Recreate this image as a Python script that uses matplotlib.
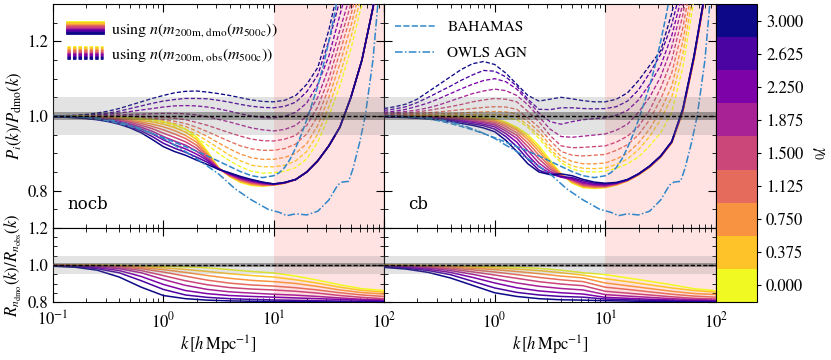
import numpy as np
import matplotlib
matplotlib.use("Agg")
import matplotlib.pyplot as plt
from matplotlib.legend_handler import HandlerBase
from matplotlib.lines import Line2D
from matplotlib.colors import ListedColormap, BoundaryNorm
from matplotlib.cm import ScalarMappable
import matplotlib.ticker as mticker

# ---------------- data ----------------
GAMMA = [0.0, 0.375, 0.75, 1.125, 1.5, 1.875, 2.25, 2.625, 3.0]
# log10 k sampling of the top panels
LOGK_TOP = [-1.0, -0.9, -0.8, -0.7, -0.6, -0.5, -0.4, -0.3, -0.2, -0.1, 0.0, 0.1, 0.2, 0.3, 0.4, 0.5,
            0.6, 0.7, 0.8, 0.9, 1.0, 1.1, 1.2, 1.3, 1.4, 1.5, 1.6, 1.7, 1.8, 1.9, 2.0]
# log10 k sampling of the bottom panels
LOGK_BOT = [-1.0, -0.8, -0.6, -0.4, -0.2, 0.0, 0.2, 0.4, 0.6, 0.8, 1.0, 1.2, 1.4, 1.6, 1.8, 2.0]

# top-left (nocb), solid: using n(m200m,dmo)
NOCB_DMO = [
    [1.0, 1.0, 1.0, 0.999, 0.999, 0.998, 0.997, 0.995, 0.993, 0.990, 0.985, 0.977, 0.965, 0.944, 0.905, 0.862, 0.838, 0.822, 0.814, 0.812, 0.815,
     0.820, 0.830, 0.850, 0.880, 0.920, 0.970, 1.050, 1.150, 1.290, 1.450],
    [1.0, 1.0, 0.999, 0.999, 0.998, 0.997, 0.995, 0.992, 0.988, 0.984, 0.978, 0.969, 0.957, 0.937, 0.901, 0.861, 0.839, 0.824, 0.816, 0.813, 0.815,
     0.820, 0.830, 0.850, 0.880, 0.920, 0.970, 1.050, 1.150, 1.290, 1.450],
    [1.0, 0.999, 0.999, 0.998, 0.997, 0.995, 0.993, 0.989, 0.984, 0.978, 0.971, 0.961, 0.948, 0.930, 0.897, 0.860, 0.840, 0.826, 0.818, 0.814, 0.816,
     0.820, 0.830, 0.850, 0.880, 0.920, 0.970, 1.050, 1.150, 1.290, 1.450],
    [0.999, 0.999, 0.998, 0.997, 0.996, 0.994, 0.991, 0.986, 0.980, 0.972, 0.963, 0.952, 0.940, 0.922, 0.893, 0.860, 0.841, 0.828, 0.820, 0.816, 0.816,
     0.821, 0.830, 0.850, 0.880, 0.920, 0.970, 1.050, 1.150, 1.290, 1.450],
    [0.999, 0.999, 0.998, 0.997, 0.995, 0.992, 0.989, 0.983, 0.975, 0.966, 0.954, 0.943, 0.931, 0.914, 0.889, 0.859, 0.842, 0.830, 0.822, 0.817, 0.816,
     0.821, 0.830, 0.850, 0.880, 0.920, 0.970, 1.050, 1.150, 1.290, 1.450],
    [0.999, 0.998, 0.997, 0.996, 0.994, 0.991, 0.986, 0.979, 0.970, 0.959, 0.945, 0.933, 0.922, 0.906, 0.885, 0.859, 0.844, 0.832, 0.824, 0.819, 0.817,
     0.821, 0.830, 0.850, 0.880, 0.920, 0.970, 1.050, 1.150, 1.290, 1.450],
    [0.999, 0.998, 0.997, 0.995, 0.993, 0.989, 0.984, 0.975, 0.965, 0.952, 0.936, 0.923, 0.912, 0.898, 0.881, 0.858, 0.845, 0.834, 0.826, 0.820, 0.817,
     0.821, 0.830, 0.850, 0.880, 0.920, 0.970, 1.050, 1.150, 1.290, 1.450],
    [0.998, 0.998, 0.997, 0.994, 0.991, 0.987, 0.981, 0.971, 0.960, 0.945, 0.927, 0.914, 0.903, 0.890, 0.876, 0.858, 0.846, 0.836, 0.828, 0.822, 0.818,
     0.822, 0.830, 0.850, 0.880, 0.920, 0.970, 1.050, 1.150, 1.290, 1.450],
    [0.998, 0.997, 0.995, 0.993, 0.990, 0.985, 0.978, 0.968, 0.955, 0.937, 0.918, 0.905, 0.895, 0.882, 0.870, 0.857, 0.848, 0.838, 0.830, 0.823, 0.818,
     0.822, 0.830, 0.850, 0.880, 0.920, 0.970, 1.050, 1.150, 1.290, 1.450],
]
# top-left (nocb), dashed: using n(m200m,obs)
NOCB_OBS = [
    [1.0, 1.0, 1.0, 1.0, 0.999, 0.998, 0.996, 0.994, 0.990, 0.985, 0.979, 0.970, 0.958, 0.942, 0.922, 0.900, 0.880, 0.864, 0.852, 0.847, 0.848,
     0.852, 0.862, 0.885, 0.930, 1.000, 1.080, 1.180, 1.300, 1.450, 1.620],
    [1.0, 1.0, 1.0, 1.0, 0.999, 0.998, 0.997, 0.995, 0.992, 0.988, 0.983, 0.975, 0.965, 0.951, 0.933, 0.914, 0.895, 0.880, 0.868, 0.864, 0.864,
     0.868, 0.880, 0.905, 0.952, 1.025, 1.110, 1.210, 1.330, 1.480, 1.650],
    [1.0, 1.0, 1.0, 1.0, 0.999, 0.999, 0.998, 0.996, 0.994, 0.991, 0.987, 0.980, 0.972, 0.960, 0.945, 0.928, 0.912, 0.898, 0.888, 0.884, 0.884,
     0.889, 0.900, 0.926, 0.975, 1.050, 1.140, 1.240, 1.360, 1.510, 1.680],
    [1.0, 1.0, 1.0, 1.0, 1.0, 0.999, 0.999, 0.998, 0.996, 0.994, 0.991, 0.986, 0.980, 0.970, 0.958, 0.945, 0.932, 0.920, 0.912, 0.908, 0.908,
     0.913, 0.925, 0.952, 1.000, 1.075, 1.170, 1.270, 1.390, 1.540, 1.700],
    [1.0, 1.0, 1.0, 1.0, 1.0, 1.0, 1.0, 1.0, 0.999, 0.998, 0.997, 0.994, 0.990, 0.983, 0.975, 0.965, 0.955, 0.946, 0.938, 0.934, 0.933,
     0.938, 0.948, 0.975, 1.025, 1.100, 1.200, 1.300, 1.420, 1.570, 1.750],
    [1.0, 1.0, 1.0, 1.001, 1.001, 1.002, 1.003, 1.004, 1.005, 1.006, 1.007, 1.007, 1.006, 1.003, 0.998, 0.991, 0.984, 0.976, 0.968, 0.963, 0.960,
     0.964, 0.975, 1.000, 1.050, 1.130, 1.230, 1.330, 1.450, 1.600, 1.800],
    [1.0, 1.0, 1.0, 1.001, 1.003, 1.005, 1.008, 1.012, 1.016, 1.020, 1.024, 1.027, 1.028, 1.027, 1.024, 1.019, 1.013, 1.006, 1.000, 0.996, 0.995,
     0.999, 1.010, 1.035, 1.085, 1.160, 1.270, 1.380, 1.500, 1.650, 1.850],
    [1.0, 1.0, 1.001, 1.003, 1.005, 1.008, 1.013, 1.020, 1.027, 1.034, 1.040, 1.044, 1.047, 1.047, 1.046, 1.042, 1.037, 1.031, 1.026, 1.023, 1.022,
     1.026, 1.037, 1.065, 1.110, 1.200, 1.310, 1.420, 1.550, 1.700, 1.900],
    [1.0, 1.001, 1.002, 1.004, 1.008, 1.013, 1.020, 1.029, 1.038, 1.047, 1.055, 1.062, 1.066, 1.067, 1.064, 1.060, 1.055, 1.049, 1.043, 1.039, 1.038,
     1.042, 1.055, 1.085, 1.130, 1.230, 1.360, 1.480, 1.620, 1.800, 2.000],
]
# top-right (cb), solid
CB_DMO = [
    [1.0, 1.0, 1.0, 1.0, 1.0, 1.0, 0.999, 0.998, 0.997, 0.995, 0.992, 0.984, 0.970, 0.950, 0.920, 0.882, 0.845, 0.820, 0.808, 0.806, 0.808,
     0.815, 0.826, 0.842, 0.862, 0.890, 0.928, 1.010, 1.150, 1.320, 1.600],
    [1.0, 1.0, 1.0, 1.0, 0.999, 0.999, 0.998, 0.997, 0.995, 0.993, 0.990, 0.981, 0.966, 0.944, 0.913, 0.876, 0.844, 0.822, 0.810, 0.807, 0.809,
     0.816, 0.826, 0.842, 0.863, 0.890, 0.928, 1.011, 1.151, 1.321, 1.600],
    [1.0, 1.0, 0.999, 0.999, 0.999, 0.998, 0.997, 0.995, 0.993, 0.991, 0.987, 0.977, 0.962, 0.937, 0.905, 0.870, 0.843, 0.824, 0.812, 0.809, 0.810,
     0.816, 0.827, 0.843, 0.863, 0.891, 0.929, 1.012, 1.152, 1.322, 1.600],
    [1.0, 0.999, 0.999, 0.998, 0.998, 0.997, 0.996, 0.994, 0.991, 0.988, 0.984, 0.972, 0.955, 0.928, 0.895, 0.864, 0.841, 0.826, 0.814, 0.811, 0.811,
     0.817, 0.827, 0.843, 0.864, 0.891, 0.929, 1.013, 1.153, 1.323, 1.600],
    [0.999, 0.999, 0.998, 0.998, 0.997, 0.996, 0.994, 0.992, 0.989, 0.985, 0.980, 0.966, 0.948, 0.918, 0.885, 0.858, 0.839, 0.828, 0.816, 0.813, 0.812,
     0.818, 0.828, 0.844, 0.864, 0.891, 0.930, 1.014, 1.154, 1.324, 1.600],
    [0.999, 0.999, 0.998, 0.997, 0.996, 0.994, 0.992, 0.989, 0.986, 0.982, 0.976, 0.960, 0.940, 0.907, 0.874, 0.852, 0.837, 0.830, 0.819, 0.815, 0.814,
     0.819, 0.828, 0.844, 0.865, 0.892, 0.930, 1.015, 1.155, 1.325, 1.600],
    [0.999, 0.998, 0.997, 0.996, 0.995, 0.993, 0.990, 0.987, 0.983, 0.978, 0.971, 0.953, 0.930, 0.895, 0.864, 0.847, 0.836, 0.832, 0.822, 0.817, 0.816,
     0.820, 0.829, 0.845, 0.865, 0.892, 0.931, 1.016, 1.156, 1.326, 1.600],
    [0.998, 0.998, 0.997, 0.995, 0.994, 0.991, 0.988, 0.984, 0.979, 0.974, 0.965, 0.945, 0.918, 0.884, 0.855, 0.844, 0.838, 0.835, 0.826, 0.820, 0.818,
     0.821, 0.829, 0.845, 0.866, 0.893, 0.931, 1.018, 1.158, 1.328, 1.600],
    [0.998, 0.997, 0.996, 0.994, 0.992, 0.989, 0.985, 0.980, 0.975, 0.968, 0.958, 0.935, 0.905, 0.872, 0.850, 0.843, 0.845, 0.840, 0.830, 0.823, 0.820,
     0.822, 0.830, 0.845, 0.866, 0.893, 0.932, 1.020, 1.160, 1.330, 1.600],
]
# top-right (cb), dashed
CB_OBS = [
    [1.0, 1.0, 1.0, 1.0, 1.0, 1.0, 1.0, 1.0, 1.0, 0.999, 0.998, 0.995, 0.990, 0.970, 0.940, 0.905, 0.875, 0.858, 0.851, 0.850, 0.852,
     0.860, 0.872, 0.890, 0.920, 0.955, 1.010, 1.130, 1.310, 1.500, 1.700],
    [1.001, 1.001, 1.001, 1.001, 1.002, 1.002, 1.003, 1.003, 1.004, 1.004, 1.004, 1.003, 0.998, 0.975, 0.948, 0.912, 0.882, 0.866, 0.860, 0.859, 0.861,
     0.870, 0.885, 0.910, 0.945, 0.990, 1.050, 1.165, 1.340, 1.520, 1.720],
    [1.002, 1.002, 1.003, 1.004, 1.005, 1.006, 1.007, 1.008, 1.010, 1.011, 1.012, 1.011, 1.006, 0.985, 0.958, 0.922, 0.892, 0.878, 0.872, 0.872, 0.874,
     0.885, 0.900, 0.928, 0.965, 1.015, 1.080, 1.200, 1.370, 1.550, 1.750],
    [1.003, 1.004, 1.005, 1.007, 1.009, 1.011, 1.014, 1.017, 1.020, 1.023, 1.025, 1.024, 1.018, 0.995, 0.970, 0.935, 0.905, 0.895, 0.893, 0.895, 0.897,
     0.908, 0.923, 0.950, 0.990, 1.045, 1.115, 1.235, 1.400, 1.570, 1.780],
    [1.005, 1.006, 1.008, 1.011, 1.015, 1.020, 1.025, 1.031, 1.038, 1.043, 1.047, 1.045, 1.038, 1.012, 0.985, 0.948, 0.920, 0.915, 0.916, 0.918, 0.920,
     0.930, 0.946, 0.972, 1.015, 1.075, 1.150, 1.270, 1.430, 1.600, 1.800],
    [1.007, 1.009, 1.012, 1.016, 1.022, 1.030, 1.040, 1.050, 1.060, 1.067, 1.072, 1.068, 1.055, 1.030, 0.998, 0.965, 0.945, 0.943, 0.946, 0.949, 0.952,
     0.962, 0.978, 1.010, 1.050, 1.105, 1.185, 1.300, 1.450, 1.630, 1.820],
    [1.010, 1.013, 1.018, 1.026, 1.035, 1.047, 1.060, 1.073, 1.085, 1.095, 1.100, 1.092, 1.072, 1.040, 1.008, 0.985, 0.978, 0.985, 0.990, 0.993, 0.995,
     1.002, 1.015, 1.043, 1.085, 1.135, 1.215, 1.330, 1.480, 1.660, 1.850],
    [1.015, 1.019, 1.025, 1.036, 1.050, 1.065, 1.080, 1.096, 1.110, 1.122, 1.120, 1.105, 1.080, 1.045, 1.018, 1.017, 1.022, 1.022, 1.020, 1.019, 1.020,
     1.025, 1.040, 1.070, 1.115, 1.165, 1.245, 1.360, 1.510, 1.690, 1.880],
    [1.020, 1.025, 1.032, 1.045, 1.065, 1.085, 1.105, 1.125, 1.140, 1.146, 1.138, 1.115, 1.085, 1.055, 1.040, 1.045, 1.050, 1.046, 1.041, 1.038, 1.038,
     1.045, 1.062, 1.095, 1.135, 1.175, 1.275, 1.400, 1.550, 1.720, 1.900],
]
# bottom-left (nocb) ratio R_ndmo / R_nobs
NOCB_RATIO = [
    [1.0, 0.999, 0.999, 0.998, 0.995, 0.993, 0.990, 0.985, 0.975, 0.965, 0.957, 0.940, 0.918, 0.893, 0.872, 0.862],
    [0.999, 0.999, 0.998, 0.996, 0.991, 0.985, 0.976, 0.965, 0.953, 0.943, 0.935, 0.920, 0.902, 0.880, 0.863, 0.853],
    [0.999, 0.998, 0.997, 0.993, 0.986, 0.975, 0.960, 0.943, 0.928, 0.917, 0.910, 0.900, 0.884, 0.865, 0.851, 0.843],
    [0.998, 0.997, 0.995, 0.990, 0.980, 0.962, 0.940, 0.918, 0.902, 0.892, 0.886, 0.877, 0.865, 0.850, 0.838, 0.830],
    [0.998, 0.996, 0.993, 0.986, 0.970, 0.943, 0.915, 0.893, 0.878, 0.870, 0.865, 0.858, 0.848, 0.835, 0.825, 0.818],
    [0.997, 0.995, 0.990, 0.980, 0.958, 0.922, 0.890, 0.868, 0.855, 0.848, 0.842, 0.837, 0.830, 0.822, 0.815, 0.811],
    [0.996, 0.993, 0.986, 0.970, 0.938, 0.895, 0.862, 0.845, 0.835, 0.830, 0.826, 0.822, 0.818, 0.814, 0.810, 0.807],
    [0.995, 0.991, 0.980, 0.958, 0.915, 0.868, 0.838, 0.825, 0.818, 0.814, 0.811, 0.809, 0.807, 0.805, 0.804, 0.803],
    [0.993, 0.988, 0.972, 0.935, 0.880, 0.835, 0.818, 0.810, 0.806, 0.804, 0.803, 0.802, 0.801, 0.800, 0.800, 0.800],
]
# bottom-right (cb) ratio
CB_RATIO = [
    [0.998, 0.998, 0.997, 0.995, 0.993, 0.991, 0.988, 0.982, 0.972, 0.958, 0.948, 0.930, 0.912, 0.893, 0.872, 0.861],
    [0.998, 0.997, 0.995, 0.992, 0.988, 0.984, 0.978, 0.970, 0.958, 0.945, 0.926, 0.910, 0.893, 0.876, 0.862, 0.853],
    [0.997, 0.996, 0.993, 0.989, 0.982, 0.975, 0.965, 0.953, 0.940, 0.930, 0.903, 0.888, 0.873, 0.858, 0.846, 0.840],
    [0.996, 0.994, 0.990, 0.984, 0.974, 0.962, 0.948, 0.933, 0.920, 0.910, 0.880, 0.868, 0.855, 0.842, 0.832, 0.826],
    [0.995, 0.992, 0.987, 0.978, 0.963, 0.946, 0.928, 0.910, 0.897, 0.888, 0.858, 0.848, 0.838, 0.828, 0.820, 0.816],
    [0.994, 0.990, 0.983, 0.970, 0.950, 0.926, 0.903, 0.885, 0.873, 0.865, 0.840, 0.832, 0.825, 0.818, 0.813, 0.810],
    [0.992, 0.987, 0.977, 0.960, 0.933, 0.903, 0.877, 0.860, 0.850, 0.843, 0.825, 0.820, 0.815, 0.811, 0.808, 0.806],
    [0.990, 0.983, 0.970, 0.948, 0.912, 0.876, 0.852, 0.838, 0.830, 0.826, 0.816, 0.812, 0.809, 0.806, 0.804, 0.803],
    [0.987, 0.978, 0.960, 0.930, 0.890, 0.850, 0.830, 0.818, 0.812, 0.810, 0.807, 0.805, 0.803, 0.802, 0.801, 0.800],
]
# hydro simulations (same in both columns)
BAH_LOGK = [-1.0, -0.9, -0.8, -0.7, -0.6, -0.5, -0.4, -0.3, -0.2, -0.1, 0.0, 0.1, 0.2, 0.3, 0.4, 0.5, 0.6,
            0.7, 0.8, 0.9, 1.0, 1.05, 1.1, 1.15, 1.2, 1.25, 1.3, 1.35, 1.4, 1.45, 1.5, 1.55, 1.6]
BAHAMAS = [1.0, 0.999, 0.998, 0.996, 0.992, 0.987, 0.980, 0.972, 0.963, 0.953, 0.942, 0.930, 0.918, 0.906, 0.893,
           0.879, 0.865, 0.851, 0.840, 0.835, 0.840, 0.848, 0.862, 0.885, 0.915, 0.950, 0.990, 1.035, 1.080,
           1.135, 1.200, 1.270, 1.350]
OWLS_LOGK = [-1.0, -0.8, -0.6, -0.45, -0.3, -0.15, 0.0, 0.1, 0.2, 0.35, 0.5, 0.65, 0.8, 0.95, 1.05, 1.12,
             1.2, 1.3, 1.4, 1.5, 1.58, 1.62, 1.68, 1.72, 1.78, 1.83, 1.9, 1.95]
OWLS = [1.0, 0.999, 0.995, 0.988, 0.976, 0.960, 0.940, 0.922, 0.905, 0.876, 0.845, 0.805, 0.775, 0.750,
        0.742, 0.733, 0.738, 0.735, 0.745, 0.775, 0.815, 0.823, 0.825, 0.860, 0.930, 1.000, 1.150, 1.320]

# ---------------- style ----------------
plt.rcParams.update({
    "font.family": "serif",
    "font.serif": ["STIXGeneral", "Liberation Serif", "DejaVu Serif"],
    "mathtext.fontset": "stix",
    "font.size": 12,
    "xtick.direction": "in",
    "ytick.direction": "in",
    "xtick.top": True,
    "ytick.right": True,
    "xtick.major.size": 6,
    "ytick.major.size": 6,
    "xtick.minor.size": 3,
    "ytick.minor.size": 3,
})

base = plt.get_cmap("plasma_r")
colors = [base(i / (len(GAMMA) - 1)) for i in range(len(GAMMA))]
cmap = ListedColormap(colors)
step = GAMMA[1] - GAMMA[0]
bounds = [GAMMA[0] - step / 2] + [g + step / 2 for g in GAMMA]
norm = BoundaryNorm(bounds, len(GAMMA))

k_top = 10 ** np.array(LOGK_TOP)
k_bot = 10 ** np.array(LOGK_BOT)
k_bah = 10 ** np.array(BAH_LOGK)
k_owls = 10 ** np.array(OWLS_LOGK)
BLUE = "#2f86c9"
DASH = (0, (3.2, 1.6))
BAH_LS = (0, (4, 1.5))
OWLS_LS = (0, (5, 1.5, 1, 1.5))

fig = plt.figure(figsize=(8.31, 3.60), dpi=100)
W, H = 831.0, 360.0
def fa(x0, y0, x1, y1):
    return fig.add_axes([x0 / W, 1 - y1 / H, (x1 - x0) / W, (y1 - y0) / H])

ax_tl = fa(53, 4, 384, 228)
ax_tr = fa(384, 4, 716, 228)
ax_bl = fa(53, 228, 384, 302)
ax_br = fa(384, 228, 716, 302)
cax = fa(716, 4, 757, 302)

def decorate(ax, top):
    ax.set_xscale("log")
    ax.set_xlim(0.1, 100)
    ax.axvspan(10, 100, color="red", alpha=0.11, lw=0, zorder=0)
    ax.axhspan(0.95, 1.05, color="0.5", alpha=0.22, lw=0, zorder=5)
    ax.axhspan(0.99, 1.01, color="0.2", alpha=0.4, lw=0, zorder=5)
    ax.axhline(1.0, color="k", ls=(0, (3, 1.5)), lw=1.0, zorder=6)
    ax.tick_params(which="both", top=True, right=True, direction="in")
    ax.tick_params(axis="x", which="major", pad=6.5)
    ax.xaxis.set_minor_locator(mticker.LogLocator(subs=np.arange(2, 10)))
    ax.xaxis.set_minor_formatter(mticker.NullFormatter())
    if top:
        ax.set_ylim(0.7, 1.3)
    else:
        ax.set_ylim(0.8, 1.2)
    ax.yaxis.set_major_locator(mticker.MultipleLocator(0.2))
    ax.yaxis.set_minor_locator(mticker.MultipleLocator(0.05))
    ax.yaxis.set_major_formatter(mticker.FormatStrFormatter("%.1f"))

for ax, dmo, obs in [(ax_tl, NOCB_DMO, NOCB_OBS), (ax_tr, CB_DMO, CB_OBS)]:
    decorate(ax, True)
    for c, y in zip(colors, obs):
        ax.plot(k_top, y, color=c, ls=DASH, lw=0.95, zorder=3)
    for c, y in zip(colors, dmo):
        ax.plot(k_top, y, color=c, ls="-", lw=1.1, zorder=3)
    ax.plot(k_bah, BAHAMAS, color=BLUE, ls=BAH_LS, lw=1.1, zorder=4)
    ax.plot(k_owls, OWLS, color=BLUE, ls=OWLS_LS, lw=1.1, zorder=4)
    ax.tick_params(labelbottom=False)

for ax, rat in [(ax_bl, NOCB_RATIO), (ax_br, CB_RATIO)]:
    decorate(ax, False)
    for c, y in zip(colors, rat):
        ax.plot(k_bot, y, color=c, ls="-", lw=1.1, zorder=3)

ax_tr.tick_params(labelleft=False)
ax_br.tick_params(labelleft=False)
ax_bl.set_xticks([0.1, 1, 10, 100])
ax_br.set_xticks([1, 10, 100])

ax_tl.set_ylabel(r"$P_i(k)/P_{\rm dmo}(k)$", labelpad=2)
ax_bl.set_ylabel(r"$R_{n_{\rm dmo}}(k)/R_{n_{\rm obs}}(k)$", labelpad=2)
ax_bl.set_xlabel(r"$k\,[h\,\mathrm{Mpc}^{-1}]$", labelpad=2)
ax_br.set_xlabel(r"$k\,[h\,\mathrm{Mpc}^{-1}]$", labelpad=2)

ax_tl.text(0.045, 0.085, "nocb", transform=ax_tl.transAxes, family="DejaVu Serif", fontsize=12)
ax_tr.text(0.072, 0.085, "cb", transform=ax_tr.transAxes, family="DejaVu Serif", fontsize=12)


class StackHandler(HandlerBase):
    def __init__(self, cols, ls):
        super().__init__()
        self.cols = cols
        self.ls = ls

    def create_artists(self, legend, orig_handle, xdescent, ydescent, width, height, fontsize, trans):
        arts = []
        n = len(self.cols)
        hh = height * 1.1
        y0 = -ydescent + height / 2 - hh / 2
        for i, c in enumerate(self.cols):
            y = y0 + hh * (n - i - 0.5) / n
            ln = Line2D([-xdescent, -xdescent + width], [y, y], color=c, ls=self.ls, lw=2.0,
                        transform=trans)
            arts.append(ln)
        return arts


h_dmo = Line2D([], [])
h_obs = Line2D([], [])
ax_tl.legend([h_dmo, h_obs],
             [r"using $n(m_{\rm 200m,\,dmo}(m_{\rm 500c}))$",
              r"using $n(m_{\rm 200m,\,obs}(m_{\rm 500c}))$"],
             handler_map={h_dmo: StackHandler(colors, "-"),
                          h_obs: StackHandler(colors, (0, (1.2, 0.8)))},
             loc="upper left", bbox_to_anchor=(0.0, 0.99), frameon=False, fontsize=11.5,
             handlelength=2.2, handletextpad=0.55, borderaxespad=0.5, labelspacing=0.45)

h_b = Line2D([], [], color=BLUE, ls=BAH_LS, lw=1.1)
h_o = Line2D([], [], color=BLUE, ls=OWLS_LS, lw=1.1)
ax_tr.legend([h_b, h_o], ["BAHAMAS", "OWLS AGN"], loc="upper left", bbox_to_anchor=(0.0, 0.975),
             frameon=False, fontsize=11, handlelength=2.7, handletextpad=0.75,
             borderaxespad=0.3, labelspacing=0.8)

sm = ScalarMappable(norm=norm, cmap=cmap)
cb = fig.colorbar(sm, cax=cax, ticks=GAMMA)
cb.ax.set_yticklabels(["%.3f" % g for g in GAMMA])
cb.ax.tick_params(which="both", direction="out", length=3, left=False, right=True)
cb.ax.minorticks_off()
cb.outline.set_linewidth(0.8)
cb.set_label(r"$\gamma_0$", rotation=270, labelpad=16)

fig.savefig("out.png", dpi=100)
